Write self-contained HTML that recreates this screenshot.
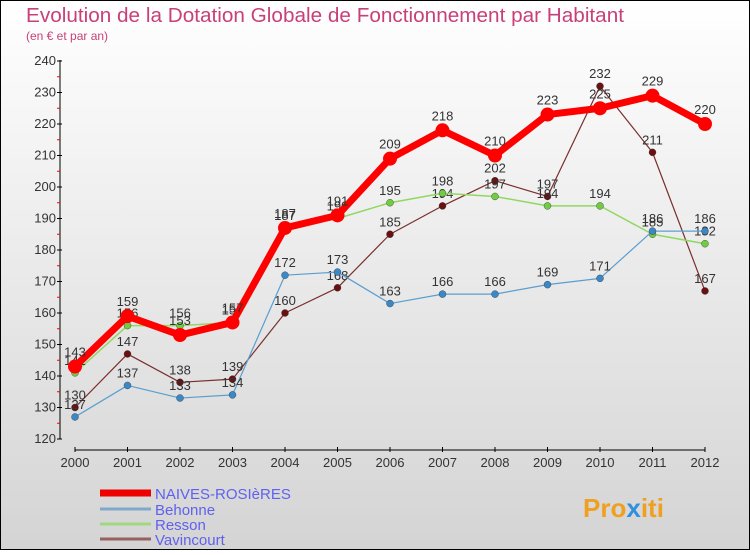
<!DOCTYPE html>
<html><head><meta charset="utf-8"><style>
body{margin:0;width:750px;height:550px;overflow:hidden;font-family:"Liberation Sans",sans-serif}
</style></head><body>
<svg id="chart" width="750" height="550" xmlns="http://www.w3.org/2000/svg" font-family="Liberation Sans, sans-serif">
<defs><linearGradient id="bg" x1="0" y1="0" x2="0" y2="1"><stop offset="0" stop-color="#ffffff"/><stop offset="1" stop-color="#d4d4d4"/></linearGradient></defs>
<rect x="0.5" y="0.5" width="749" height="549" fill="url(#bg)" stroke="#000"/>
<text x="26" y="22" font-size="20" fill="#c8407a" textLength="598" lengthAdjust="spacingAndGlyphs">Evolution de la Dotation Globale de Fonctionnement par Habitant</text>
<text x="26" y="40" font-size="12" fill="#c8407a">(en € et par an)</text>
<g id="axes"></g><g id="series"></g><g id="legend"></g>
<text x="583" y="517" font-size="26" font-weight="bold" fill="#f0a020">Pro<tspan fill="#3090e0">x</tspan>iti</text>
</svg>
<script>
const years=["2000","2001","2002","2003","2004","2005","2006","2007","2008","2009","2010","2011","2012"];
const naives=[143,159,153,157,187,191,209,218,210,223,225,229,220];
const behonne=[127,137,133,134,172,173,163,166,166,169,171,186,186];
const resson=[141,156,156,157,187,190,195,198,197,194,194,185,182];
const vavincourt=[130,147,138,139,160,168,185,194,202,197,232,211,167];
const yTicks=[120,130,140,150,160,170,180,190,200,210,220,230,240];
const NS="http://www.w3.org/2000/svg";
const xS=i=>75+i*52.5;
const yS=v=>439-(v-120)*31.5/10;
function mk(t,a,p){const e=document.createElementNS(NS,t);for(const k in a)e.setAttribute(k,a[k]);p.appendChild(e);return e;}
const ax=document.getElementById('axes');
let l=mk('line',{x1:60,y1:yS(240)-1,x2:60,y2:yS(120),stroke:'#000'},ax);


l=mk('line',{x1:xS(0),y1:450,x2:xS(12),y2:450,stroke:'#000'},ax);


yTicks.forEach(v=>{
 mk('line',{x1:57,y1:yS(v),x2:62,y2:yS(v),stroke:'#000'},ax);
 if(v<240)mk('line',{x1:57,y1:yS(v+5),x2:60,y2:yS(v+5),stroke:'#f00'},ax);
 const t=mk('text',{x:56,y:yS(v)+4,'text-anchor':'end','font-size':13,fill:'#333'},ax);
 t.textContent=v;
 
 
});
years.forEach((y,i)=>{
 mk('line',{x1:xS(i),y1:447,x2:xS(i),y2:452,stroke:'#000'},ax);
 const t=mk('text',{x:xS(i),y:467,'text-anchor':'middle','font-size':13,fill:'#333'},ax);
 t.textContent=y;
 
 
});
const sg=document.getElementById('series');
const defs=[
 {name:'Vavincourt',d:vavincourt,c:'#7a2e2e',p:'#6a1010',w:1.2,r:3.5},
 {name:'Resson',d:resson,c:'#90d860',p:'#70cc40',w:1.5,r:3.5},
 {name:'Behonne',d:behonne,c:'#5a9ed0',p:'#3a88c8',w:1.2,r:3.5},
 {name:'NAIVES-ROSIèRES',d:naives,c:'#ff0000',p:'#ff0000',w:7,r:7}
];
defs.forEach(s=>{
 const g=mk('g',{},sg);
 
 
 const pl=mk('polyline',{points:s.d.map((v,i)=>xS(i)+','+yS(v)).join(' '),fill:'none',stroke:s.c,'stroke-width':s.w,'stroke-linejoin':'round'},g);
 
 
 s.d.forEach((v,i)=>{
  const c=mk('circle',{cx:xS(i),cy:yS(v),r:s.r,fill:s.p,stroke:s.r<5?'#333':'none','stroke-width':0.4},g);
  
  
  const t=mk('text',{x:xS(i),y:yS(v)-(s.r<5?8:10),'text-anchor':'middle','font-size':13,fill:'#333'},g);
  t.textContent=v;
  
  
 });
});
const lg=document.getElementById('legend');
const leg=[['NAIVES-ROSIèRES','#ee0000',7,493],['Behonne','#80a8c8',3,509],['Resson','#a0d880',3,524],['Vavincourt','#986060',3,539]];
leg.forEach(e=>{
 const g=mk('g',{},lg);
 
 
 mk('line',{x1:100,y1:e[3],x2:151,y2:e[3],stroke:e[1],'stroke-width':e[2]},g);
 const t=mk('text',{x:155,y:e[3]+6,'font-size':15,fill:'#6060f0'},g);
 t.textContent=e[0];
});
</script>
</body></html>
